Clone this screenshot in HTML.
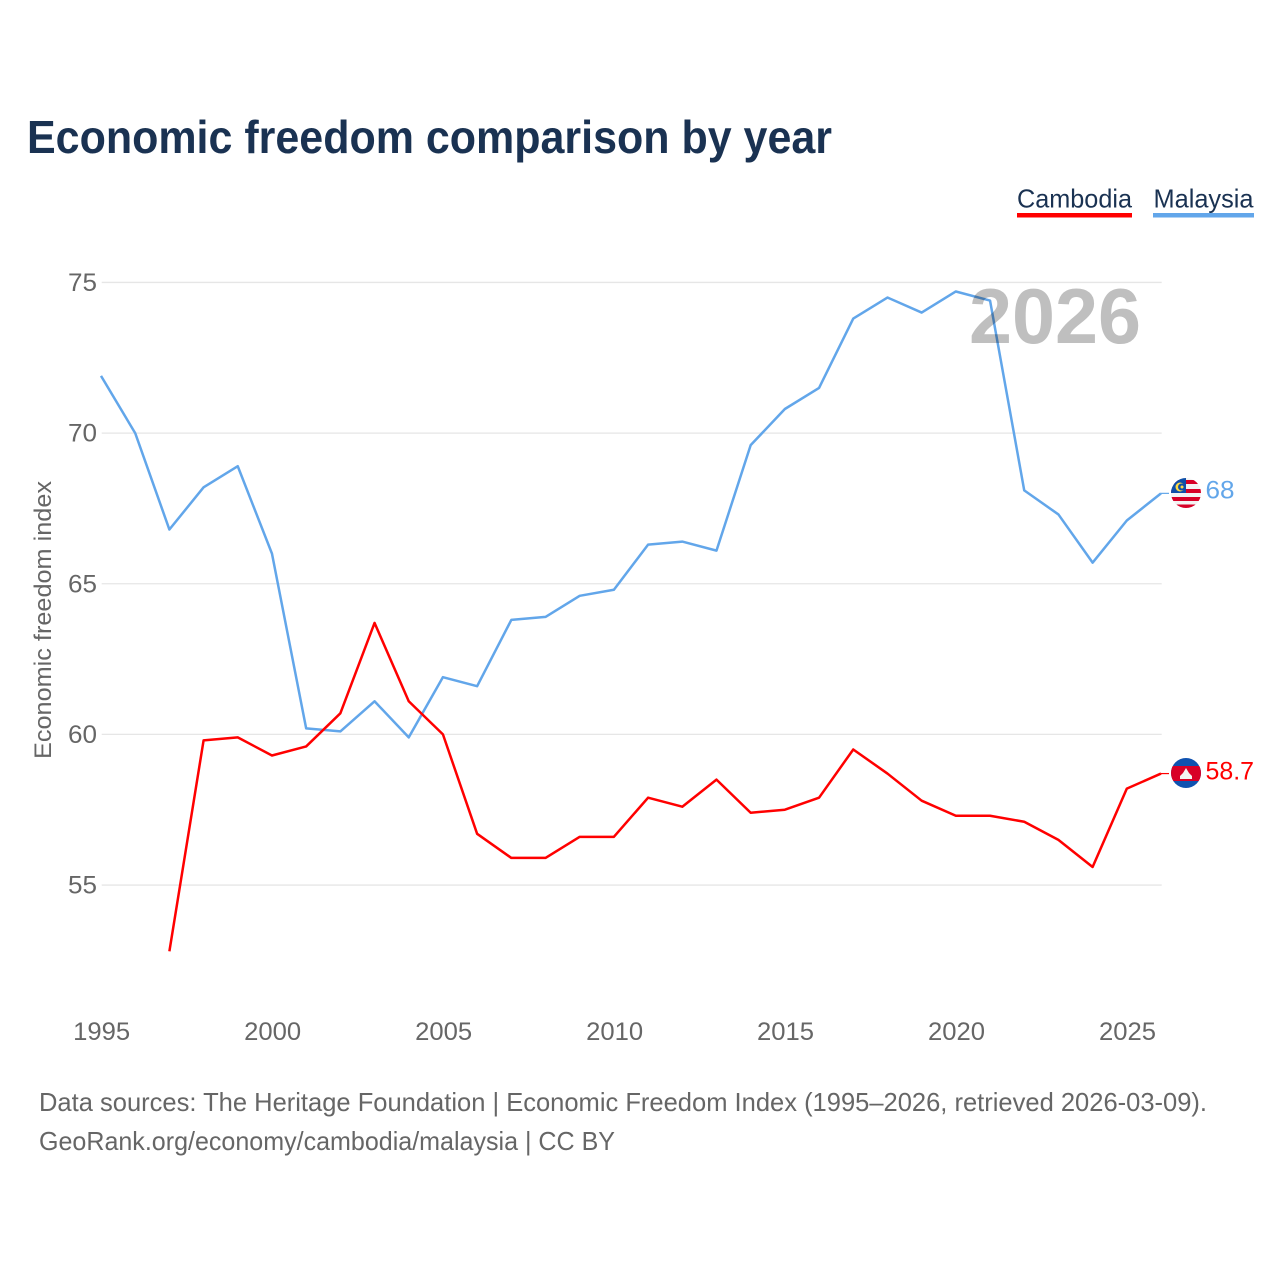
<!DOCTYPE html>
<html lang="en">
<head>
<meta charset="utf-8">
<title>Economic freedom comparison by year</title>
<style>
html,body{margin:0;padding:0;background:#fff;}
svg{display:block;font-family:"Liberation Sans",sans-serif;}
</style>
</head>
<body>
<svg id="chart" xmlns="http://www.w3.org/2000/svg" width="1280" height="1280" viewBox="0 0 1280 1280">
<defs>
<clipPath id="flag-clip-my"><circle cx="1186" cy="493" r="15"/></clipPath>
<clipPath id="flag-clip-kh"><circle cx="1186" cy="773" r="15"/></clipPath>
</defs>
<rect width="1280" height="1280" fill="#fff"/>
<text x="27" y="153" font-size="46" font-weight="700" fill="#1a3252" textLength="805" lengthAdjust="spacingAndGlyphs">Economic freedom comparison by year</text>

<g>
<g>
<text x="1017" y="207.500" font-size="26" fill="#1a3252" textLength="115" lengthAdjust="spacingAndGlyphs">Cambodia</text>
<rect x="1017" y="213" width="115" height="4.5" fill="#ff0000"/>
</g>
<g>
<text x="1153.500" y="207.500" font-size="26" fill="#1a3252" textLength="100" lengthAdjust="spacingAndGlyphs">Malaysia</text>
<rect x="1153" y="213" width="101" height="4.5" fill="#62a6ea"/>
</g>
</g>

<g id="grid"></g>
<g id="y-ticks"></g>
<g id="x-ticks"></g>
<text transform="translate(51,759) rotate(-90)" font-size="24.500" fill="#666" textLength="278" lengthAdjust="spacingAndGlyphs">Economic freedom index</text>

<g id="series"></g>
<text x="969" y="343" font-size="78" font-weight="700" fill="#bfbfbf" textLength="172" lengthAdjust="spacingAndGlyphs" style="mix-blend-mode:multiply">2026</text>

<g clip-path="url(#flag-clip-my)">
<rect x="1171" y="478" width="30" height="30" fill="#f3f3f3"/>
<rect x="1171" y="480" width="30" height="4" fill="#d80027"/>
<rect x="1171" y="489" width="30" height="4" fill="#d80027"/>
<rect x="1171" y="497" width="30" height="4" fill="#d80027"/>
<rect x="1171" y="504.500" width="30" height="4" fill="#d80027"/>
<rect x="1171" y="478" width="15" height="15" fill="#0f4fa8"/>
<circle cx="1180" cy="487" r="4.500" fill="#ffda44"/>
<circle cx="1181.500" cy="487" r="3.500" fill="#0f4fa8"/>
<circle cx="1182" cy="487" r="1.500" fill="#ffda44"/>
</g>
<g clip-path="url(#flag-clip-kh)">
<rect x="1171" y="758" width="30" height="30" fill="#0f52b0"/>
<rect x="1171" y="766" width="30" height="15" fill="#d80027"/>
<polygon points="1180,779 1180,776 1183,773 1186,768 1189,773 1192,776 1192,779" fill="#f3f3f3"/>
</g>
<text id="label-my" x="1205.500" y="498.500" font-size="25" fill="#62a6ea" textLength="29" lengthAdjust="spacingAndGlyphs"></text>
<text id="label-kh" x="1205.500" y="779.500" font-size="25" fill="#ff0000" textLength="48.500" lengthAdjust="spacingAndGlyphs"></text>

<text x="39" y="1111" font-size="26" fill="#666" textLength="1168" lengthAdjust="spacingAndGlyphs">Data sources: The Heritage Foundation | Economic Freedom Index (1995–2026, retrieved 2026-03-09).</text>
<text x="39" y="1150" font-size="26" fill="#666" textLength="576" lengthAdjust="spacingAndGlyphs">GeoRank.org/economy/cambodia/malaysia | CC BY</text>
</svg>
<script>
const years = [1995,1996,1997,1998,1999,2000,2001,2002,2003,2004,2005,2006,2007,2008,2009,2010,2011,2012,2013,2014,2015,2016,2017,2018,2019,2020,2021,2022,2023,2024,2025,2026];
const malaysiaValues = [71.9,70.0,66.8,68.2,68.9,66.0,60.2,60.1,61.1,59.9,61.9,61.6,63.8,63.9,64.6,64.8,66.3,66.4,66.1,69.6,70.8,71.5,73.8,74.5,74.0,74.7,74.4,68.1,67.3,65.7,67.1,68.0];
const cambodiaValues = [null,null,52.8,59.8,59.9,59.3,59.6,60.7,63.7,61.1,60.0,56.7,55.9,55.9,56.6,56.6,57.9,57.6,58.5,57.4,57.5,57.9,59.5,58.7,57.8,57.3,57.3,57.1,56.5,55.6,58.2,58.7];
const yTickLabels = [55,60,65,70,75];
const xTickLabels = [1995,2000,2005,2010,2015,2020,2025];

const NS = 'http://www.w3.org/2000/svg';
function xScale(year){ return 101 + (year - 1995) * (1161 - 101) / 31; }
function yScale(v){ return 734.4 - (v - 60) * 30.13; }

function make(tag, attrs, parent){
  const el = document.createElementNS(NS, tag);
  for (const k in attrs) el.setAttribute(k, attrs[k]);
  parent.appendChild(el);
  return el;
}

const grid = document.getElementById('grid');
const yTicks = document.getElementById('y-ticks');
const xTicks = document.getElementById('x-ticks');
const seriesGroup = document.getElementById('series');

yTickLabels.forEach(function(t){
  const y = yScale(t);
  const line = make('line', {x1:101.7, x2:1161.7, y1:y, y2:y, stroke:'#e6e6e6', 'stroke-width':1.3}, grid);
  
  
  const label = make('text', {x:97, y:y + 8.5, 'text-anchor':'end', 'font-size':25, fill:'#666', textLength:29, lengthAdjust:'spacingAndGlyphs'}, yTicks);
  
  
  label.textContent = t;
});

xTickLabels.forEach(function(t){
  const label = make('text', {x:xScale(t) + 0.7, y:1040, 'text-anchor':'middle', 'font-size':25, fill:'#666', textLength:57, lengthAdjust:'spacingAndGlyphs'}, xTicks);
  
  
  label.textContent = t;
});

function drawSeries(values, color, name){
  const pts = [];
  values.forEach(function(v, i){
    if (v !== null) pts.push(xScale(years[i]).toFixed(2) + ',' + yScale(v).toFixed(2));
  });
  const line = make('polyline', {points:pts.join(' '), fill:'none', stroke:color, 'stroke-width':2.5, 'stroke-linejoin':'round'}, seriesGroup);
  
  
  const last = values[values.length - 1];
  const conn = make('line', {x1:xScale(years[years.length - 1]), x2:1169, y1:yScale(last), y2:yScale(last), stroke:color, 'stroke-width':1.2}, seriesGroup);
  
  
}
drawSeries(malaysiaValues, '#62a6ea', 'malaysia');
drawSeries(cambodiaValues, '#ff0000', 'cambodia');

document.getElementById('label-my').textContent = malaysiaValues[malaysiaValues.length - 1].toFixed(0);
document.getElementById('label-kh').textContent = cambodiaValues[cambodiaValues.length - 1].toFixed(1);
</script>
</body>
</html>
